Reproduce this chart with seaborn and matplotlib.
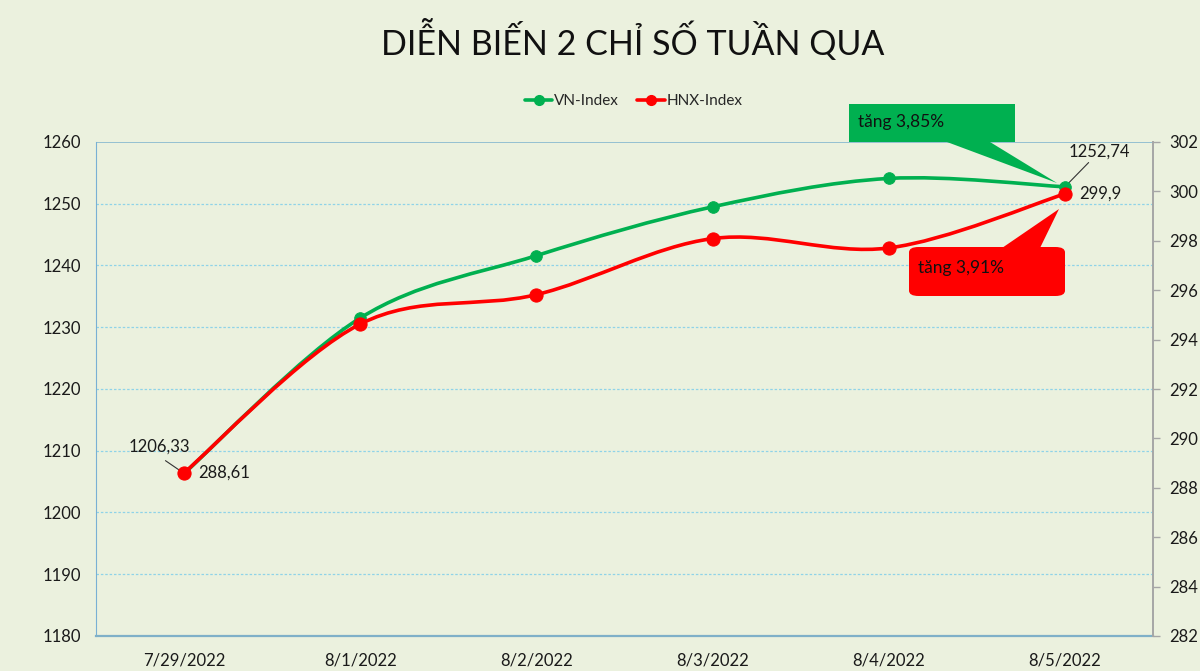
import numpy as np
import matplotlib
matplotlib.use("Agg")
import matplotlib.pyplot as plt
from matplotlib.path import Path
from matplotlib.patches import PathPatch, Polygon, FancyBboxPatch
from matplotlib.lines import Line2D
import seaborn as sns

# -- Data -----------------------------------------------------
DATES    = ["7/29/2022", "8/1/2022", "8/2/2022", "8/3/2022", "8/4/2022", "8/5/2022"]
VN_INDEX = [1206.33, 1231.5, 1241.6, 1249.5, 1254.1, 1252.74]
HNX      = [288.61, 294.63, 295.82, 298.09, 297.71, 299.9]
LEFT_TICKS  = [1180, 1190, 1200, 1210, 1220, 1230, 1240, 1250, 1260]
RIGHT_TICKS = [282, 284, 286, 288, 290, 292, 294, 296, 298, 300, 302]

GREEN = "#00b050"
RED   = "#ff0000"
BG    = "#ebf1de"
GRID  = "#8fd3e8"

sns.set_style("white", {"axes.facecolor": BG, "figure.facecolor": BG})
plt.rcParams["font.family"] = ["Lato", "Noto Sans", "DejaVu Sans"]


def smooth_path(xs, ys):
    # Excel-style smoothed line: cubic bezier through the data points
    verts = [(xs[0], ys[0])]
    codes = [Path.MOVETO]
    n = len(xs)
    for i in range(n - 1):
        a = i - 1 if i > 0 else i
        d = i + 2 if i + 2 < n else i + 1
        c1 = (xs[i] + (xs[i + 1] - xs[a]) / 6, ys[i] + (ys[i + 1] - ys[a]) / 6)
        c2 = (xs[i + 1] - (xs[d] - xs[i]) / 6, ys[i + 1] - (ys[d] - ys[i]) / 6)
        verts += [c1, c2, (xs[i + 1], ys[i + 1])]
        codes += [Path.CURVE4] * 3
    return Path(verts, codes)


pos = list(range(len(DATES)))

fig = plt.figure(figsize=(12, 6.71), dpi=100)
ax = fig.add_axes([96 / 1200, 1 - 636 / 671, (1153 - 96) / 1200, (636 - 142) / 671])
ax2 = ax.twinx()

# VN-Index on left axis
ax.add_patch(PathPatch(smooth_path(pos, VN_INDEX), facecolor="none",
                       edgecolor=GREEN, lw=2.6, zorder=3))
sns.scatterplot(x=pos, y=VN_INDEX, ax=ax, color=GREEN, s=70,
                edgecolor=GREEN, zorder=4, legend=False)

# HNX-Index on right axis
ax2.add_patch(PathPatch(smooth_path(pos, HNX), facecolor="none",
                        edgecolor=RED, lw=2.6, zorder=3))
sns.scatterplot(x=pos, y=HNX, ax=ax2, color=RED, s=90,
                edgecolor=RED, zorder=4, legend=False)

ax.set_xlim(-0.5, len(DATES) - 0.5)
ax.set_ylim(LEFT_TICKS[0], LEFT_TICKS[-1])
ax2.set_ylim(RIGHT_TICKS[0], RIGHT_TICKS[-1])
ax.set_xticks(pos)
ax.set_xticklabels(DATES)
ax.set_yticks(LEFT_TICKS)
ax2.set_yticks(RIGHT_TICKS)

for y in LEFT_TICKS[1:-1]:
    ax.axhline(y, color=GRID, lw=0.9, ls=(0, (2, 1.5)), zorder=1)
ax.axhline(LEFT_TICKS[-1], color="#86b8cf", lw=1.2, zorder=1)

for s in ["top", "right"]:
    ax.spines[s].set_visible(False)
ax.spines["left"].set_color("#79b0d4")
ax.spines["bottom"].set_color("#7fb0c8")
ax.spines["bottom"].set_linewidth(1.6)
for s in ["top", "left", "bottom"]:
    ax2.spines[s].set_visible(False)
ax2.spines["right"].set_color("#a6a6a6")
ax2.spines["right"].set_linewidth(1.4)

ax.tick_params(axis="y", length=0, pad=11, labelsize=12, labelcolor="#1a1a1a")
ax.tick_params(axis="x", length=0, pad=12, labelsize=12, labelcolor="#1a1a1a")
ax2.tick_params(axis="y", length=5, width=1, color="#a6a6a6", pad=7,
                labelsize=12, labelcolor="#1a1a1a")

# data labels
ax.annotate(f"{VN_INDEX[0]:g}".replace(".", ","), xy=(pos[0], VN_INDEX[0]),
            xytext=(-18, 19), textcoords="offset points", ha="center", va="center",
            fontsize=12, color="#1a1a1a",
            arrowprops=dict(arrowstyle="-", color="#333333", lw=0.8,
                            relpos=(0.47, 0), shrinkA=3, shrinkB=1))
ax2.annotate(f"{HNX[0]:g}".replace(".", ","), xy=(pos[0], HNX[0]),
             xytext=(10, 0), textcoords="offset points", ha="left", va="center",
             fontsize=12, color="#1a1a1a")
ax.annotate(f"{VN_INDEX[-1]:g}".replace(".", ","), xy=(pos[-1], VN_INDEX[-1]),
            xytext=(25, 22), textcoords="offset points", ha="center",
            fontsize=12, color="#1a1a1a",
            arrowprops=dict(arrowstyle="-", color="#333333", lw=0.8, shrinkA=0, shrinkB=2))
ax2.annotate(f"{HNX[-1]:g}".replace(".", ","), xy=(pos[-1], HNX[-1]),
             xytext=(10, 0), textcoords="offset points", ha="left", va="center",
             fontsize=12, color="#1a1a1a")

# callouts (pixel coordinates of the figure)
W, H = 1200, 671


def px(x, y):
    return (x / W, 1 - y / H)


vn_pct = (VN_INDEX[-1] / VN_INDEX[0] - 1) * 100
hnx_pct = (HNX[-1] / HNX[0] - 1) * 100

fig.patches.append(Polygon([px(849, 104), px(1015, 104), px(1015, 142), px(990, 142),
                            px(1057, 183), px(947, 142), px(849, 142)],
                           closed=True, transform=fig.transFigure,
                           facecolor=GREEN, edgecolor="none", zorder=5))
fig.text(*px(858, 122), f"tăng {vn_pct:.2f}%".replace(".", ","), fontsize=12.5,
         color="#111111", va="center", ha="left", zorder=6)

fig.patches.append(FancyBboxPatch(px(909, 296), 156 / W, 49 / H,
                                  boxstyle="round,pad=0,rounding_size=0.008",
                                  transform=fig.transFigure, facecolor=RED,
                                  edgecolor="none", zorder=5))
fig.patches.append(Polygon([px(1002, 248), px(1059, 209), px(1040, 248)],
                           closed=True, transform=fig.transFigure,
                           facecolor=RED, edgecolor="none", zorder=5))
fig.text(*px(918, 268), f"tăng {hnx_pct:.2f}%".replace(".", ","), fontsize=12.5,
         color="#111111", va="center", ha="left", zorder=6)

# title and legend
fig.text(0.527, 1 - 40 / H, "DIỄN BIẾN 2 CHỈ SỐ TUẦN QUA", ha="center", va="center",
         fontsize=24.5, color="#111111")
handles = [Line2D([], [], color=GREEN, lw=2.6, marker="o", markersize=7, label="VN-Index"),
           Line2D([], [], color=RED, lw=2.6, marker="o", markersize=7, label="HNX-Index")]
fig.legend(handles=handles, loc="center", bbox_to_anchor=(0.528, 1 - 101 / H), ncol=2,
           frameon=False, fontsize=11, handlelength=1.8, handletextpad=0.1,
           columnspacing=1.2)

fig.savefig("out.png", dpi=100, facecolor=BG)
